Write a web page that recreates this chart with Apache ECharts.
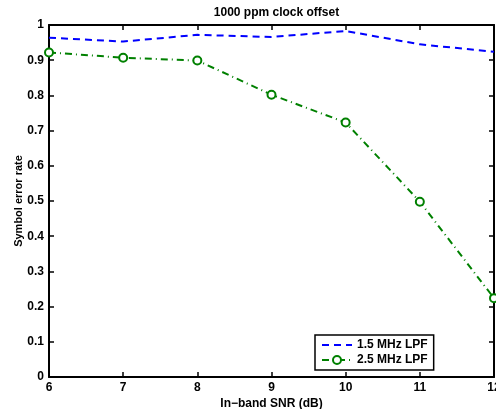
<!DOCTYPE html>
<html><head><meta charset="utf-8">
<script src="https://cdn.jsdelivr.net/npm/echarts@6/dist/echarts.min.js"></script>
<style>html,body{margin:0;padding:0;background:#fff}#c{width:496px;height:409px}</style>
</head><body><div id="c"></div>
<script>
var snr = [6, 7, 8, 9, 10, 11, 12];
var lpf15 = [0.964, 0.953, 0.972, 0.966, 0.983, 0.945, 0.924];
var lpf25 = [0.922, 0.907, 0.899, 0.802, 0.723, 0.498, 0.224];
var seriesNames = ['1.5 MHz LPF', '2.5 MHz LPF'];
var titleText = '1000 ppm clock offset';
var xName = 'In\u2212band SNR (dB)';
var yName = 'Symbol error rate';

function pairs(xs, ys){ return xs.map(function(x,i){return [x, ys[i]];}); }
var font = 'Liberation Sans, Arial, sans-serif';
var chart = echarts.init(document.getElementById('c'), null, {renderer:'canvas'});
var axisCommon = {
  axisLine:{show:true, onZero:false, lineStyle:{color:'#000', width:2}},
  axisTick:{show:true, inside:true, length:5, lineStyle:{color:'#000', width:1.5}},
  splitLine:{show:false}
};
var txt = {fontFamily:font, fontWeight:'bold', fontSize:12, color:'#000'};
chart.setOption({
  animation:false,
  title:{text:titleText, left:271.5, textAlign:'center', top:2,
    textStyle:txt},
  grid:{left:49, right:2, top:25, bottom:32, containLabel:false, outerBoundsMode:'none'},
  legend:{data:[{name:seriesNames[0], itemStyle:{opacity:0}}, {name:seriesNames[1]}],
    orient:'vertical', left:315, top:335, width:120,
    borderColor:'#000', borderWidth:1.5, padding:[4,6,4,6], itemGap:3,
    itemWidth:30, itemHeight:10, backgroundColor:'#fff',
    textStyle:txt},
  xAxis:[
    Object.assign({type:'value', min:6, max:12, interval:1, position:'bottom',
      name:xName, nameLocation:'middle', nameGap:21, nameMoveOverlap:false,
      nameTextStyle:txt,
      axisLabel:Object.assign({margin:5}, txt)}, axisCommon),
    Object.assign({type:'value', min:6, max:12, interval:1, position:'top',
      axisLabel:{show:false}}, axisCommon)
  ],
  yAxis:[
    Object.assign({type:'value', min:0, max:1, interval:0.1, position:'left',
      name:yName, nameLocation:'middle', nameGap:25, nameMoveOverlap:false,
      nameTextStyle:Object.assign({}, txt, {fontSize:11}),
      axisLabel:Object.assign({margin:5}, txt)}, axisCommon),
    Object.assign({type:'value', min:0, max:1, interval:0.1, position:'right',
      axisLabel:{show:false}}, axisCommon)
  ],
  series:[
    {name:seriesNames[0], type:'line', data:pairs(snr, lpf15), symbol:'emptyCircle', showSymbol:false,
      lineStyle:{color:'#0000ff', width:2, type:[7,5]}, itemStyle:{color:'#0000ff'}},
    {name:seriesNames[1], type:'line', data:pairs(snr, lpf25), symbol:'emptyCircle', symbolSize:8,
      lineStyle:{color:'#008000', width:2, type:[7,4,1,4]},
      itemStyle:{color:'#008000', borderColor:'#008000', borderWidth:2}}
  ]
});
</script></body></html>
